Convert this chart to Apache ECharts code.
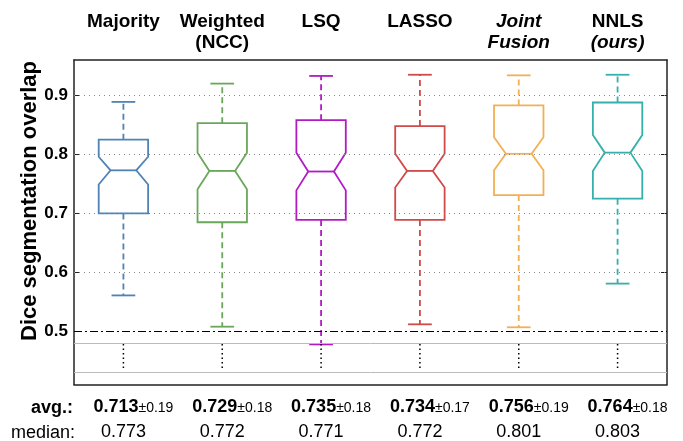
<!DOCTYPE html>
<html>
<head>
    <meta charset="utf-8">
    <script src="https://cdn.jsdelivr.net/npm/echarts@6/dist/echarts.min.js"></script>
</head>
<body style="margin:0">
    <div id="main" style="width:683px; height:441px"></div>
    <script type="text/javascript">
        // data
        var categories = ['Majority', 'Weighted\n(NCC)', 'LSQ', 'LASSO', 'Joint\nFusion', 'NNLS\n(ours)'];
        var italicLines = [[], [], [], [], [0, 1], [1]];
        var whiskerLow  = [0.561, 0.508, 0.478, 0.512, 0.507, 0.581];
        var q1          = [0.700, 0.685, 0.689, 0.689, 0.731, 0.725];
        var notchLow    = [0.749, 0.741, 0.739, 0.744, 0.773, 0.772];
        var median      = [0.773, 0.772, 0.771, 0.772, 0.801, 0.803];
        var notchHigh   = [0.796, 0.803, 0.803, 0.801, 0.829, 0.833];
        var q3          = [0.825, 0.853, 0.858, 0.848, 0.883, 0.888];
        var whiskerHigh = [0.889, 0.920, 0.933, 0.935, 0.934, 0.935];
        var avgDice     = [0.713, 0.729, 0.735, 0.734, 0.756, 0.764];
        var avgStd      = [0.19, 0.18, 0.18, 0.17, 0.19, 0.18];
        var medianText  = [0.773, 0.772, 0.771, 0.772, 0.801, 0.803];
        var yTicks      = [0.5, 0.6, 0.7, 0.8, 0.9];
        var gridLevels  = [0.6, 0.7, 0.8, 0.9];
        var chanceLevel = 0.5;
        var bandLevels  = [0.4786, 0.4346];

        var colors = ['#4f83b5', '#6aa75a', '#b21bc3', '#d04a4a', '#f2b055', '#35b0ab'];
        var font = 'Liberation Sans, Arial, Helvetica, sans-serif';

        var boxData = categories.map(function (c, i) {
            return [i, whiskerLow[i], q1[i], notchLow[i], median[i], notchHigh[i], q3[i], whiskerHigh[i]];
        });

        function renderBox(params, api) {
            var idx = api.value(0);
            var col = colors[params.dataIndex];
            var band = api.size([1, 0])[0];
            var x = api.coord([idx, api.value(4)])[0];
            function y(k) { return api.coord([idx, api.value(k)])[1]; }
            var hw = band * 0.25, nw = band * 0.13, cw = band * 0.12;
            var solid = { stroke: col, lineWidth: 1.8, fill: null };
            var dashed = { stroke: col, lineWidth: 1.8, lineDash: [6, 4] };
            var yb0 = api.coord([idx, bandLevels[0]])[1];
            var yb1 = api.coord([idx, bandLevels[1]])[1];
            return {
                type: 'group',
                children: [
                    { type: 'line', shape: { x1: x, y1: y(6), x2: x, y2: y(7) }, style: dashed },
                    { type: 'line', shape: { x1: x, y1: y(2), x2: x, y2: y(1) }, style: dashed },
                    { type: 'line', shape: { x1: x - cw, y1: y(7), x2: x + cw, y2: y(7) }, style: solid },
                    { type: 'line', shape: { x1: x - cw, y1: y(1), x2: x + cw, y2: y(1) }, style: solid },
                    { type: 'polygon', shape: { points: [
                        [x - hw, y(2)], [x - hw, y(3)], [x - nw, y(4)], [x - hw, y(5)], [x - hw, y(6)],
                        [x + hw, y(6)], [x + hw, y(5)], [x + nw, y(4)], [x + hw, y(3)], [x + hw, y(2)]
                    ] }, style: solid },
                    { type: 'line', shape: { x1: x - nw, y1: y(4), x2: x + nw, y2: y(4) }, style: solid },
                    { type: 'line', shape: { x1: x, y1: yb0, x2: x, y2: yb1 }, style: { stroke: '#000', lineWidth: 1.5, lineDash: [1.5, 3] } }
                ]
            };
        }

        var frame = { show: true, lineStyle: { color: '#222', width: 1.5 } };
        var myChart = echarts.init(document.getElementById('main'));
        var option = {
            animation: false,
            grid: { left: 74, right: 16, top: 60, bottom: 56 },
            xAxis: [{
                type: 'category',
                data: categories,
                position: 'top',
                axisLine: frame,
                axisTick: { inside: true, length: 6, alignWithLabel: true, lineStyle: { color: '#222' } },
                axisLabel: {
                    margin: 7,
                    interval: 0,
                    formatter: function (value, idx) {
                        var lines = value.split('\n');
                        if (lines.length === 1) lines.push(' ');
                        return lines.map(function (l, j) {
                            return '{' + (italicLines[idx].indexOf(j) >= 0 ? 'i' : 'b') + '|' + l + '}';
                        }).join('\n');
                    },
                    rich: {
                        b: { fontFamily: font, fontWeight: 'bold', fontSize: 19, lineHeight: 21, color: '#000' },
                        i: { fontFamily: font, fontWeight: 'bold', fontStyle: 'italic', fontSize: 19, lineHeight: 21, color: '#000' }
                    }
                }
            }, {
                type: 'category',
                data: categories,
                position: 'bottom',
                axisLine: frame,
                axisTick: { inside: true, length: 6, alignWithLabel: true, lineStyle: { color: '#222' } },
                axisLabel: {
                    margin: 10,
                    interval: 0,
                    formatter: function (value, idx) {
                        return '{v|' + avgDice[idx].toFixed(3) + '}{s|\u00b1' + avgStd[idx].toFixed(2) + '}\n{m|' + medianText[idx].toFixed(3) + '}';
                    },
                    rich: {
                        v: { fontFamily: font, fontWeight: 'bold', fontSize: 18, lineHeight: 25, color: '#000', padding: [0, 0, 0, 20] },
                        s: { fontFamily: font, fontSize: 14, lineHeight: 25, color: '#000', padding: [2, 0, 0, 0] },
                        m: { fontFamily: font, fontSize: 18, lineHeight: 25, color: '#000' }
                    }
                }
            }],
            yAxis: [{
                type: 'value',
                min: 0.41,
                max: 0.96,
                position: 'left',
                axisLine: frame,
                splitLine: { show: false },
                axisTick: { show: true, inside: true, length: 5, customValues: yTicks, lineStyle: { color: '#222' } },
                axisLabel: {
                    customValues: yTicks,
                    margin: 6,
                    fontFamily: font, fontWeight: 'bold', fontSize: 17, color: '#000',
                    formatter: function (v) { return v.toFixed(1); }
                }
            }, {
                type: 'value',
                min: 0.41,
                max: 0.96,
                position: 'right',
                axisLine: frame,
                splitLine: { show: false },
                axisTick: { show: true, inside: true, length: 6, customValues: gridLevels, lineStyle: { color: '#222' } },
                axisLabel: { show: false }
            }],
            graphic: [{
                type: 'text', x: 30, y: 201, rotation: Math.PI / 2,
                style: { text: 'Dice segmentation overlap', font: 'bold 22px ' + font, fill: '#000', textAlign: 'center', textVerticalAlign: 'middle' }
            }, {
                type: 'text', x: 73, y: 408,
                style: { text: 'avg.:', font: 'bold 18px ' + font, fill: '#000', textAlign: 'right', textVerticalAlign: 'middle' }
            }, {
                type: 'text', x: 75, y: 433,
                style: { text: 'median:', font: '18px ' + font, fill: '#000', textAlign: 'right', textVerticalAlign: 'middle' }
            }],
            series: [{
                type: 'line',
                data: [],
                z: 1,
                markLine: {
                    silent: true,
                    symbol: ['none', 'none'],
                    label: { show: false },
                    data: gridLevels.map(function (v) {
                        return { yAxis: v, lineStyle: { color: '#888', type: [1, 4], width: 1 } };
                    }).concat([{ yAxis: chanceLevel, lineStyle: { color: '#000', type: [8, 3, 2, 3], width: 1 } }])
                      .concat(bandLevels.map(function (v) {
                        return { yAxis: v, lineStyle: { color: '#bbb', type: 'solid', width: 1 } };
                    }))
                }
            }, {
                type: 'custom',
                z: 3,
                renderItem: renderBox,
                encode: { x: 0, y: [1, 2, 3, 4, 5, 6, 7] },
                data: boxData
            }]
        };
        myChart.setOption(option);
    </script>
</body>
</html>
